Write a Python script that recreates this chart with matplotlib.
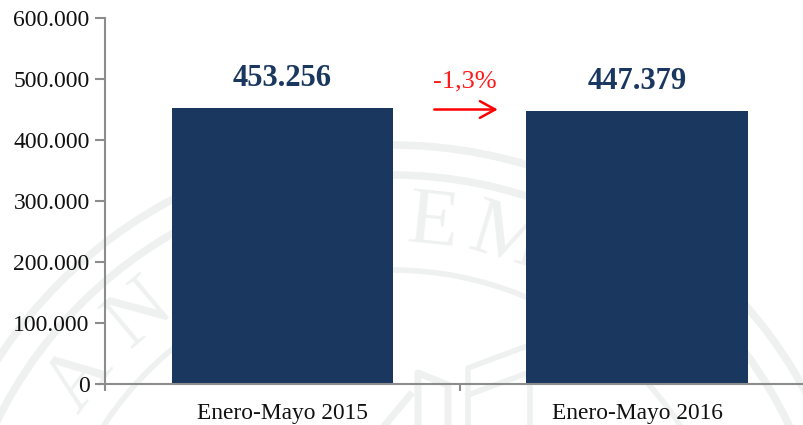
import numpy as np
import matplotlib
matplotlib.use('Agg')
import matplotlib.pyplot as plt
from matplotlib.patches import Arc

categories = ['Enero-Mayo 2015', 'Enero-Mayo 2016']
values = [453256, 447379]
value_labels = ['453.256', '447.379']
yticks = [0, 100000, 200000, 300000, 400000, 500000, 600000]
ytick_labels = ['0', '100.000', '200.000', '300.000', '400.000', '500.000', '600.000']
change_label = '-1,3%'
seal_letters = ['A', 'N', 'E', 'M']
navy = '#19375f'
seal_col = '#eef1f0'
axis_col = '#8c8c8c'

plt.rcParams['font.family'] = ['Liberation Serif', 'DejaVu Serif']

fig = plt.figure(figsize=(8.04, 4.25), dpi=100)

# faint seal behind the chart
bg = fig.add_axes([0, 0, 1, 1], zorder=0)
bg.set_xlim(0, 804)
bg.set_ylim(425, 0)
bg.axis('off')
cx, cy = 392, 615
for r, lw in [(470, 5.5), (440, 5.5), (345, 4)]:
    bg.add_patch(Arc((cx, cy), 2 * r, 2 * r, color=seal_col, lw=lw))
for txt, ang, r in zip(seal_letters, [-53, -40, 6, 17], [392, 392, 392, 392]):
    a = np.radians(ang)
    bg.text(cx + r * np.sin(a), cy - r * np.cos(a), txt, fontsize=60, color=seal_col,
            rotation=-ang, ha='center', va='center')
# building outline at the foot of the seal
bg.plot([468, 468, 530, 530], [425, 368, 345, 425], color=seal_col, lw=4)
bg.plot([468, 530], [395, 372], color=seal_col, lw=4)
bg.plot([418, 418, 448, 448], [425, 373, 385, 425], color=seal_col, lw=5)
bg.plot([385, 410], [425, 395], color=seal_col, lw=5)

ax = fig.add_axes([105 / 804, 1 - 384 / 425, (804 - 105) / 804, (384 - 18) / 425], zorder=1)
ax.patch.set_alpha(0)
ax.bar([0, 1], values, width=0.625, color=navy)
ax.set_xlim(-0.5, 1.47)
ax.set_ylim(0, 600000)
ax.set_xticks([0, 1])
ax.set_xticklabels(categories, fontsize=16.8, color='#111111')
ax.set_yticks(yticks)
ax.set_yticklabels(ytick_labels, fontsize=17, color='#111111')
ax.set_xticks([-0.5, 0.5], minor=True)
ax.tick_params(axis='x', which='major', length=0, pad=14)
ax.tick_params(axis='x', which='minor', length=5, width=1.5, color=axis_col, direction='out')
ax.tick_params(axis='y', length=7, width=1.5, color=axis_col, pad=4)
ax.spines['top'].set_visible(False)
ax.spines['right'].set_visible(False)
ax.spines['left'].set_color(axis_col)
ax.spines['bottom'].set_color(axis_col)
ax.spines['left'].set_linewidth(1.5)
ax.spines['bottom'].set_linewidth(1.5)

for x, v, lab in zip([0, 1], values, value_labels):
    ax.text(x, v + 24000, lab, ha='center', va='bottom', fontsize=22, color=navy, fontweight='bold')

ax.text(0.515, 478000, change_label, ha='center', va='bottom', fontsize=19, color='#ff1a1a')
ax.annotate('', xy=(0.607, 450000), xytext=(0.428, 450000),
            arrowprops=dict(arrowstyle='->,head_length=1.1,head_width=0.6', color='#ff0000', lw=1.8,
                            shrinkA=0, shrinkB=0))

fig.savefig('out.png', dpi=100)
